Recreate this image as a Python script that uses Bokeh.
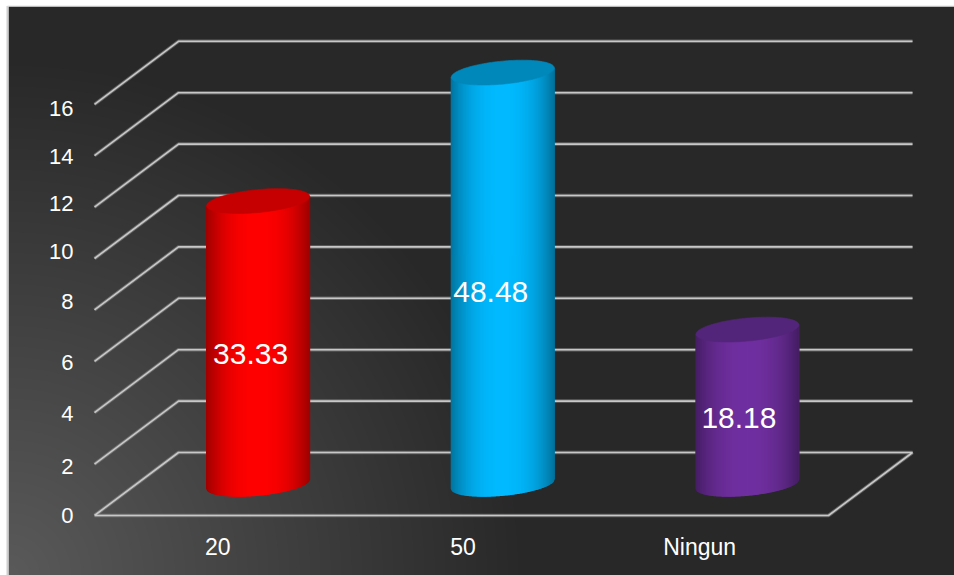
import numpy as np
from bokeh.core.properties import value
from bokeh.embed import file_html
from bokeh.models import ColumnDataSource, Range1d
from bokeh.plotting import figure
from bokeh.resources import INLINE

# Survey answers: share of the 33 respondents, in percent
categories = ["20", "50", "Ningun"]
shares = [33.33, 48.48, 18.18]
respondents = 33

tick_values = [0, 2, 4, 6, 8, 10, 12, 14, 16]
tick_labels = ["0", "2", "4", "6", "8", "10", "12", "14", "16"]
tick_nudges = [0, 2, 1, 1, -8, -7, -4, 1, 4]
category_nudges = [1, 1.5, -6.5]
share_nudges_x = [-0.5, -5, -1.5]
share_lifts = [0.79, 0.68, 0.8]

body_colors = [(255, 0, 0), (0, 186, 255), (112, 48, 160)]
cap_colors = ["#c60000", "#0088bb", "#53257a"]

W, H = 954, 575
X0, Y0 = 94, 515          # front-left corner of the floor, in pixels
BAND = 244.67             # pixels per category
UNIT = 25.7               # pixels per count
DEPTH_X, DEPTH_Y = 84 / BAND, 63 / UNIT   # oblique offset of the back wall

p = figure(
    width=W, height=H, output_backend="svg", toolbar_location=None,
    x_range=Range1d(-X0 / BAND, (W - X0) / BAND),
    y_range=Range1d((Y0 - H) / UNIT, Y0 / UNIT),
    min_border=0, outline_line_color=None, background_fill_color="white",
    border_fill_color="white",
)
p.axis.visible = False
p.grid.visible = False


def px(x):
    return (x - X0) / BAND


def py(y):
    return (Y0 - y) / UNIT


# Dark backdrop that lightens toward the lower-left corner (image rows start at the bottom)
bw, bh = W - 8, H - 6
yy, xx = np.mgrid[0:bh, 0:bw]
dist = np.hypot(xx, yy)
glow = np.clip(1 - dist / 520, 0, 1)
level = (0x28 + (0x5a - 0x28) * glow).astype(np.uint32)
rgba = (255 << 24) | (level << 16) | (level << 8) | level
p.image_rgba(image=[rgba.astype(np.uint32)], x=px(8), y=py(H), dw=bw / BAND, dh=bh / UNIT)

# Thin grey frame on the left and top of the backdrop
p.line([px(7), px(7)], [py(H), py(5.5)], line_color="#cfcfcf", line_width=2)
p.line([px(7), px(W)], [py(5.5), py(5.5)], line_color="#e2e2e2", line_width=1)

# Gridlines run along the left wall and across the back wall
wall_x, wall_y = [], []
for t in tick_values:
    if t == 0:
        wall_x.append([0, DEPTH_X, 3 + DEPTH_X, 3, 0])
        wall_y.append([0, DEPTH_Y, DEPTH_Y, 0, 0])
    else:
        wall_x.append([0, DEPTH_X, 3 + DEPTH_X])
        wall_y.append([t, t + DEPTH_Y, t + DEPTH_Y])
p.multi_line(wall_x, wall_y, line_color="#999999", line_width=3.5, line_alpha=0.5)
p.multi_line(wall_x, wall_y, line_color="#c8c8c8", line_width=1.6)

# Cylinders: vertical strips shaded from the centre outward, plus an elliptical cap
HALF_W = 51.5 / BAND
ELL_B = 11.5 / UNIT
TILT = 4.7 / UNIT
MID_X = DEPTH_X / 2 - 0.003
MID_Y = DEPTH_Y / 2 + 0.01
u_edges = np.linspace(-1, 1, 104)
u_mid = (u_edges[:-1] + u_edges[1:]) / 2
theta = np.linspace(0, 2 * np.pi, 120)

for i, share in enumerate(shares):
    count = share * respondents / 100
    cx = i + 0.5 + MID_X
    base = MID_Y
    top = base + count

    strip_x, strip_y, strip_c = [], [], []
    for a, b, m in zip(u_edges[:-1], u_edges[1:], u_mid):
        shade = 0.62 + 0.38 * (1 - abs(m) ** 2.4)
        r, g, bl = (int(c * shade) for c in body_colors[i])
        xl, xr = cx + a * HALF_W, cx + b * HALF_W
        low_l = base + TILT * a - ELL_B * np.sqrt(max(0, 1 - a * a))
        low_r = base + TILT * b - ELL_B * np.sqrt(max(0, 1 - b * b))
        strip_x.append([xl, xr, xr, xl])
        strip_y.append([low_l, low_r, top + TILT * b, top + TILT * a])
        strip_c.append(f"#{r:02x}{g:02x}{bl:02x}")
    p.patches(strip_x, strip_y, fill_color=strip_c, line_color=strip_c, line_width=1.2)

    cap_x = cx + HALF_W * np.cos(theta)
    cap_y = top + TILT * np.cos(theta) + ELL_B * np.sin(theta)
    p.patch(cap_x, cap_y, fill_color=cap_colors[i], line_color=cap_colors[i], line_width=1, line_alpha=0.6)

# Value labels sit at the front of each cylinder, halfway up
label_src = ColumnDataSource(dict(
    x=[i + 0.5 + 0.14 for i in range(3)],
    y=[s * respondents / 200 + off for s, off in zip(shares, share_lifts)],
    text=[f"{s:.2f}" for s in shares],
    off=share_nudges_x,
))
p.text("x", "y", text="text", x_offset="off", source=label_src, text_color="white",
       text_font=value("Liberation Sans"), text_font_size="30px",
       text_align="center", text_baseline="middle")

# Value axis labels
tick_src = ColumnDataSource(dict(
    x=[px(73)] * len(tick_values), y=tick_values, text=tick_labels, off=tick_nudges,
))
p.text("x", "y", text="text", y_offset="off", source=tick_src, text_color="white",
       text_font=value("Liberation Sans"), text_font_size="22px",
       text_align="right", text_baseline="middle")

# Category labels under the floor
cat_src = ColumnDataSource(dict(
    x=[i + 0.5 for i in range(3)], y=[py(546)] * 3, text=categories, off=category_nudges,
))
p.text("x", "y", text="text", x_offset="off", source=cat_src, text_color="white",
       text_font=value("Liberation Sans"), text_font_size="23px",
       text_align="center", text_baseline="middle")

open("out.html", "w").write(file_html(p, INLINE))
